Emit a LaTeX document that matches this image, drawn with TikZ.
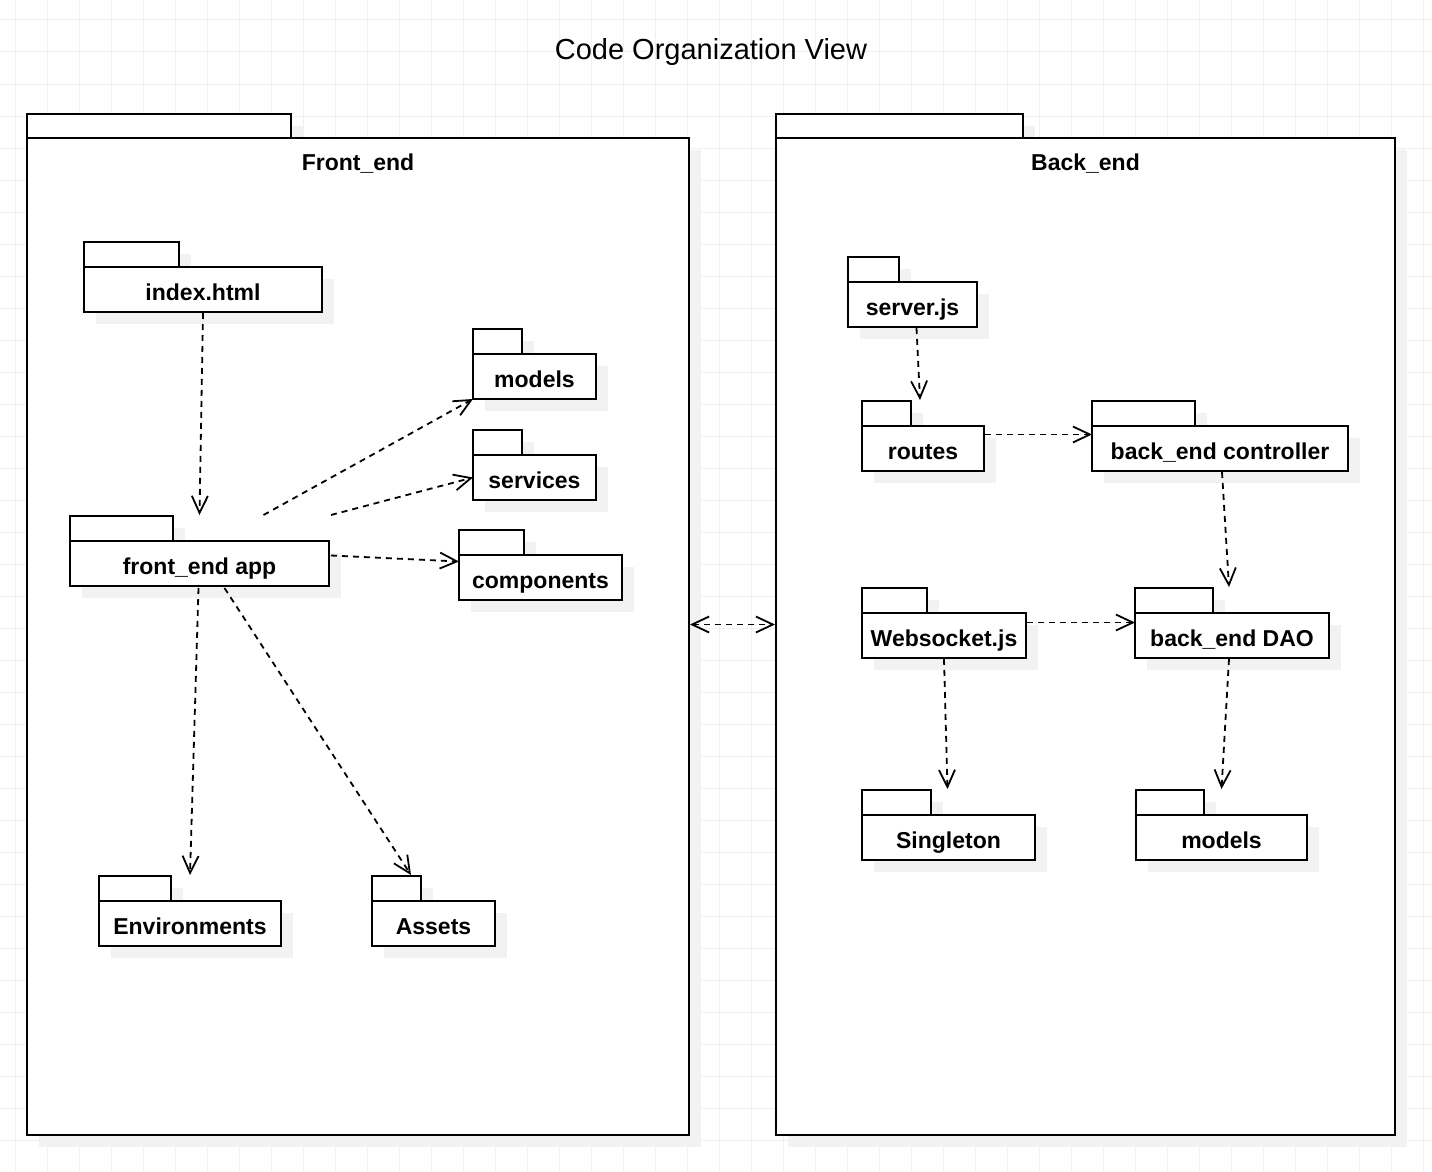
\documentclass[tikz,border=0pt]{standalone}
\usepackage{fontspec}
\setmainfont{Liberation Sans}
\usetikzlibrary{arrows.meta,shadows,positioning}

\begin{document}
\begin{tikzpicture}[x=1pt,y=-1pt,
    gridline/.style={draw=black!6,line width=1pt},
    pkgline/.style={draw=black,line width=1.9pt,fill=white,outer sep=0pt,
        drop shadow={shadow xshift=12pt,shadow yshift=-12pt,fill=black!5,opacity=1}},
    pkgtab/.style={pkgline,inner sep=0pt,minimum height=25pt,anchor=north west},
    pkgbody/.style={pkgline,inner sep=0pt,minimum height=45pt,anchor=north west,
        font=\fontsize{23}{23}\selectfont\bfseries,text height=21pt,text depth=0pt},
    cname/.style={font=\fontsize{23}{23}\selectfont\bfseries},
    dep/.style={line width=1.8pt,dash pattern=on 6pt off 5pt,
        -{Straight Barb[length=17pt,width=16pt]}}]
    \useasboundingbox (0,0) rectangle (1432,1172);
    % background grid
    \foreach \gx in {15,47,...,1432}
        \draw[gridline] (\gx,0) -- (\gx,1172);
    \foreach \gy in {20,52,...,1172}
        \draw[gridline] (0,\gy) -- (1432,\gy);

    \node[font=\fontsize{29}{29}\selectfont] (title) at (711,52) {Code Organization View};

    % containers
    \node[pkgtab,minimum width=264pt,minimum height=24pt] (front-tab) at (27,114) {};
    \node[pkgline,inner sep=0pt,anchor=north west,minimum width=662pt,minimum height=997pt] (front) at (front-tab.south west) {};
    \node[cname] (front-name) at ([shift={(0,26)}]front.north) {Front\_end};
    \node[pkgtab,minimum width=247pt,minimum height=24pt] (back-tab) at (776,114) {};
    \node[pkgline,inner sep=0pt,anchor=north west,minimum width=619pt,minimum height=997pt] (back) at (back-tab.south west) {};
    \node[cname] (back-name) at ([shift={(0,26)}]back.north) {Back\_end};

    % front end packages
    \node[pkgtab,minimum width=95pt] (index-tab) at (84,242) {};
    \node[pkgbody,minimum width=238pt] (index) at (index-tab.south west) {index.html};
    \node[pkgtab,minimum width=49pt] (models-tab) at (473,329) {};
    \node[pkgbody,minimum width=123pt] (models) at (models-tab.south west) {models};
    \node[pkgtab,minimum width=49pt] (services-tab) at (473,430) {};
    \node[pkgbody,minimum width=123pt] (services) at (services-tab.south west) {services};
    \node[pkgtab,minimum width=65pt] (components-tab) at (459,530) {};
    \node[pkgbody,minimum width=163pt] (components) at (components-tab.south west) {components};
    \node[pkgtab,minimum width=103pt] (app-tab) at (70,516) {};
    \node[pkgbody,minimum width=259pt] (app) at (app-tab.south west) {front\_end app};
    \node[pkgtab,minimum width=72pt] (env-tab) at (99,876) {};
    \node[pkgbody,minimum width=182pt] (env) at (env-tab.south west) {Environments};
    \node[pkgtab,minimum width=49pt] (assets-tab) at (372,876) {};
    \node[pkgbody,minimum width=123pt] (assets) at (assets-tab.south west) {Assets};

    % back end packages
    \node[pkgtab,minimum width=51pt] (server-tab) at (848,257) {};
    \node[pkgbody,minimum width=129pt] (server) at (server-tab.south west) {server.js};
    \node[pkgtab,minimum width=49pt] (routes-tab) at (862,401) {};
    \node[pkgbody,minimum width=122pt] (routes) at (routes-tab.south west) {routes};
    \node[pkgtab,minimum width=103pt] (ctrl-tab) at (1092,401) {};
    \node[pkgbody,minimum width=256pt] (ctrl) at (ctrl-tab.south west) {back\_end controller};
    \node[pkgtab,minimum width=65pt] (socket-tab) at (862,588) {};
    \node[pkgbody,minimum width=164pt] (socket) at (socket-tab.south west) {Websocket.js};
    \node[pkgtab,minimum width=78pt] (dao-tab) at (1135,588) {};
    \node[pkgbody,minimum width=194pt] (dao) at (dao-tab.south west) {back\_end DAO};
    \node[pkgtab,minimum width=69pt] (single-tab) at (862,790) {};
    \node[pkgbody,minimum width=173pt] (single) at (single-tab.south west) {Singleton};
    \node[pkgtab,minimum width=68pt] (bmodels-tab) at (1136,790) {};
    \node[pkgbody,minimum width=171pt] (bmodels) at (bmodels-tab.south west) {models};

    % dependencies
    \draw[dep] ([shift={(0,1)}]index.south) -- ([shift={(0,-26)}]app.north);
    \draw[dep] ([shift={(64,-26)}]app.north) -- (models.south west);
    \draw[dep] ([shift={(2,-26)}]app.north east) -- (services.west);
    \draw[dep] ([shift={(2,-8)}]app.east) -- ([shift={(0,-16)}]components.west);
    \draw[dep] ([shift={(-1,2)}]app.south) -- ([shift={(0,-26)}]env.north);
    \draw[dep] ([shift={(25,2)}]app.south) -- ([shift={(-10,-1)}]assets-tab.north east);
    \draw[dep] ([shift={(4,1)}]server.south) -- ([shift={(-3,-26)}]routes.north);
    \draw[dep] ([shift={(1,-14)}]routes.east) -- ([shift={(0,-14)}]ctrl.west);
    \draw[dep] ([shift={(2,1)}]ctrl.south) -- ([shift={(-3,-26)}]dao.north);
    \draw[dep] ([shift={(1,-13)}]socket.east) -- ([shift={(0,-13)}]dao.west);
    \draw[dep] ([shift={(0,1)}]socket.south) -- ([shift={(-1,-26)}]single.north);
    \draw[dep] ([shift={(-3,1)}]dao.south) -- ([shift={(0,-26)}]bmodels.north);
    \draw[dep,{Straight Barb[length=17pt,width=16pt]}-{Straight Barb[length=17pt,width=16pt]}]
        ([shift={(1,-12)}]front.east) -- ([shift={(-1,-12)}]back.west);
\end{tikzpicture}
\end{document}
